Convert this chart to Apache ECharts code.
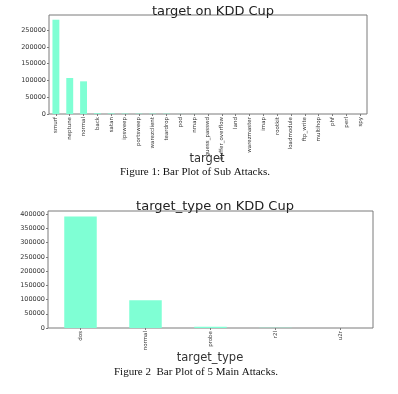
<!DOCTYPE html>
<html><head><meta charset="utf-8">
<script src="https://cdn.jsdelivr.net/npm/echarts@6/dist/echarts.min.js"></script>
<style>html,body{margin:0;padding:0;background:#fff}#c{width:398px;height:394px}</style>
</head><body><div id="c"></div>
<script>
const subCategories = ['smurf','neptune','normal','back','satan','ipsweep','portsweep','warezclient','teardrop','pod','nmap','guess_passwd','buffer_overflow','land','warezmaster','imap','rootkit','loadmodule','ftp_write','multihop','phf','perl','spy'];
const subCounts = [280790,107201,97278,2203,1589,1247,1040,1020,979,264,231,53,30,21,20,12,10,9,8,7,4,3,2];
const subTicks = [0,50000,100000,150000,200000,250000];
const mainCategories = ['dos','normal','probe','r2l','u2r'];
const mainCounts = [391458,97278,4107,1126,52];
const mainTicks = [0,50000,100000,150000,200000,250000,300000,350000,400000];

const BAR = '#7fffd4';
const FRAME = '#7a7a7a';
const SANS = 'DejaVu Sans';

function yAxisOf(idx, ticks, max) {
  return {
    gridIndex: idx, type: 'value', min: 0, max: max,
    splitLine: {show: false},
    axisLine: {show: false},
    axisTick: {show: true, length: 2, lineStyle: {color: FRAME}, customValues: ticks},
    axisLabel: {fontSize: 6.5, color: '#333', margin: 3, fontFamily: SANS, customValues: ticks,
      formatter: v => String(Math.round(v))}
  };
}
function xAxisOf(idx, cats) {
  return {
    gridIndex: idx, type: 'category', data: cats,
    axisLine: {show: false},
    axisTick: {show: true, alignWithLabel: true, length: 2, lineStyle: {color: FRAME}},
    axisLabel: {rotate: 90, interval: 0, fontSize: 5.5, color: '#333', margin: 3, fontFamily: SANS}
  };
}

const chart = echarts.init(document.getElementById('c'));
chart.setOption({
  animation: false,
  backgroundColor: '#fff',
  title: [
    {text: 'target on KDD Cup', left: 208, top: 0, textAlign: 'center',
     textStyle: {fontSize: 13, fontWeight: 'normal', color: '#222', fontFamily: SANS}},
    {text: 'target_type on KDD Cup', left: 210, top: 195, textAlign: 'center',
     textStyle: {fontSize: 13, fontWeight: 'normal', color: '#222', fontFamily: SANS}}
  ],
  grid: [
    {left: 49, top: 15, width: 318, height: 99, show: true, borderColor: FRAME, borderWidth: 1, backgroundColor: 'transparent'},
    {left: 48, top: 211, width: 325, height: 117, show: true, borderColor: FRAME, borderWidth: 1, backgroundColor: 'transparent'}
  ],
  xAxis: [xAxisOf(0, subCategories), xAxisOf(1, mainCategories)],
  yAxis: [yAxisOf(0, subTicks, 294830), yAxisOf(1, mainTicks, 411031)],
  series: [
    {type: 'bar', xAxisIndex: 0, yAxisIndex: 0, data: subCounts, barWidth: '50%', itemStyle: {color: BAR}},
    {type: 'bar', xAxisIndex: 1, yAxisIndex: 1, data: mainCounts, barWidth: '50%', itemStyle: {color: BAR}}
  ],
  graphic: [
    {type: 'text', x: 207, y: 159, style: {text: 'target', font: '11.5px "DejaVu Sans"', fill: '#333', textAlign: 'center', textVerticalAlign: 'middle'}},
    {type: 'text', x: 195, y: 172, style: {text: 'Figure 1: Bar Plot of Sub Attacks.', font: '11px "Liberation Serif"', fill: '#111', textAlign: 'center', textVerticalAlign: 'middle'}},
    {type: 'text', x: 210, y: 358, style: {text: 'target_type', font: '11.5px "DejaVu Sans"', fill: '#333', textAlign: 'center', textVerticalAlign: 'middle'}},
    {type: 'text', x: 196, y: 372, style: {text: 'Figure 2  Bar Plot of 5 Main Attacks.', font: '11px "Liberation Serif"', fill: '#111', textAlign: 'center', textVerticalAlign: 'middle'}}
  ]
});
</script></body></html>
